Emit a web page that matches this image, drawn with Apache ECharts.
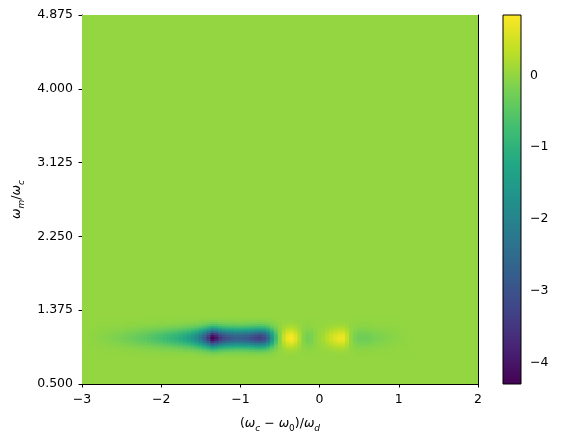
<!DOCTYPE html>
<html>
<head>
<meta charset="utf-8">
<script src="https://cdn.jsdelivr.net/npm/echarts@6/dist/echarts.min.js"></script>
<style>
  html, body { margin: 0; padding: 0; background: #fff; }
  #chart { width: 561px; height: 441px; }
</style>
</head>
<body>
<div id="chart"></div>
<script>
// x positions (in (wc-w0)/wd) where the centre row of the map was read
const xKnots = [
  -2.9, -2.85, -2.8, -2.75, -2.7, -2.65, -2.6, -2.55, -2.5, -2.45, -2.4, -2.35,
  -2.3, -2.25, -2.2, -2.15, -2.1, -2.05, -2.0, -1.95, -1.9, -1.85, -1.8, -1.75,
  -1.7, -1.65, -1.6, -1.55, -1.5, -1.45, -1.4, -1.35, -1.3, -1.25, -1.2,
  -1.15, -1.1, -1.05, -1.0, -0.95, -0.9, -0.85, -0.8, -0.75, -0.7, -0.65,
  -0.6, -0.55, -0.5, -0.45, -0.4, -0.35, -0.3, -0.25, -0.2, -0.15, -0.1,
  -0.05, 0.0, 0.05, 0.1, 0.15, 0.2, 0.25, 0.3, 0.35, 0.4, 0.45, 0.5, 0.55,
  0.6, 0.65, 0.7, 0.75, 0.8, 0.85, 0.9, 0.95, 1.0, 1.05, 1.1
];
// value along the centre row (wm/wc ~ 1.05)
const centerProfile = [
  -0.02, -0.04, -0.06, -0.08, -0.1, -0.12, -0.15, -0.18, -0.21, -0.25, -0.29, -0.33,
  -0.37, -0.42, -0.47, -0.52, -0.58, -0.64, -0.71, -0.78, -0.86, -0.94, -1.02, -1.12,
  -1.25, -1.4, -1.6, -1.9, -2.3, -2.8, -3.5, -4.3, -4.0, -3.5, -3.2,
  -3.0, -2.9, -2.8, -2.8, -2.85, -2.95, -3.1, -3.3, -3.4, -3.2, -2.6,
  -1.7, -0.8, -0.1, 0.4, 0.75, 0.84, 0.6, 0.25, -0.1, -0.25, -0.2,
  -0.05, 0.05, 0.15, 0.3, 0.45, 0.6, 0.7, 0.72, 0.4, 0.0, -0.2, -0.3, -0.3,
  -0.3, -0.25, -0.2, -0.18, -0.15, -0.12, -0.1, -0.07, -0.05, -0.03, -0.02
];
// rows around the centre line and how strong each one is
const yCenter = 1.05;
const rowStep = 0.025;
const rowOffsets = [-0.225, -0.2, -0.175, -0.15, -0.125, -0.1, -0.075, -0.05, -0.025, 0,
  0.025, 0.05, 0.075, 0.1, 0.125, 0.15, 0.175, 0.2, 0.225];
const rowWeights = [0.015, 0.035, 0.08, 0.15, 0.27, 0.43, 0.62, 0.81, 0.95, 1,
  0.95, 0.81, 0.62, 0.43, 0.27, 0.15, 0.08, 0.035, 0.015];
const bgValue = 0;

const xTicks = [-3, -2, -1, 0, 1, 2];
const yTicks = [0.5, 1.375, 2.25, 3.125, 4.0, 4.875];
const cbTicks = [-4, -3, -2, -1, 0];
const vMin = -4.3, vMax = 0.84;

const viridis = ['#440154', '#482475', '#414487', '#355f8d', '#2a788e', '#21918c',
  '#22a884', '#44bf70', '#7ad151', '#bddf26', '#fde725'];

// cells: [x0, x1, y0, y1, value]
const cells = [[-3, 2, 0.5, 4.875, bgValue]];
rowOffsets.forEach(function (off, j) {
  const y0 = yCenter + off - rowStep / 2, y1 = yCenter + off + rowStep / 2;
  xKnots.forEach(function (x, i) {
    const left = i === 0 ? x - (xKnots[1] - xKnots[0]) / 2 : (xKnots[i - 1] + x) / 2;
    const right = i === xKnots.length - 1 ? x + (x - xKnots[i - 1]) / 2 : (x + xKnots[i + 1]) / 2;
    cells.push([left, right, y0, y1, centerProfile[i] * rowWeights[j]]);
  });
});

const font = 'DejaVu Sans';
const fs = 12.5;
const minus = function (v) { return String(v).replace('-', '\u2212'); };
const black = '#000';

const chart = echarts.init(document.getElementById('chart'));
const option = {
  animation: false,
  backgroundColor: '#fff',
  textStyle: { fontFamily: font },
  grid: [
    { left: 82, top: 15, width: 396, height: 369 },
    { left: 503, top: 15, width: 18, height: 369 }
  ],
  xAxis: [
    {
      gridIndex: 0, type: 'value', min: -3, max: 2,
      axisLine: { show: true, onZero: false, lineStyle: { color: black, width: 1 } },
      axisTick: { show: true, length: 3.5, customValues: xTicks, lineStyle: { color: black } },
      axisLabel: { customValues: xTicks, color: black, fontSize: fs, margin: 9, formatter: minus },
      splitLine: { show: false },
      name: '({i|ω}{sub|c} − {i|ω}{sub0|0})/{i|ω}{sub|d}',
      nameLocation: 'middle', nameGap: 31,
      nameTextStyle: {
        color: black, fontSize: fs, lineHeight: 18,
        rich: {
          i: { fontStyle: 'italic', fontSize: fs, color: black },
          sub: { fontStyle: 'italic', fontSize: 9, color: black, verticalAlign: 'bottom', lineHeight: 18 },
          sub0: { fontSize: 9, color: black, verticalAlign: 'bottom', lineHeight: 18 }
        }
      }
    },
    {
      gridIndex: 0, type: 'value', min: -3, max: 2, position: 'top',
      axisLine: { show: true, onZero: false, lineStyle: { color: black, width: 1 } },
      axisTick: { show: false }, axisLabel: { show: false }, splitLine: { show: false }
    },
    {
      gridIndex: 1, type: 'value', min: 0, max: 1, show: false
    }
  ],
  yAxis: [
    {
      gridIndex: 0, type: 'value', min: 0.5, max: 4.875,
      axisLine: { show: true, onZero: false, lineStyle: { color: black, width: 1 } },
      axisTick: { show: true, length: 3.5, customValues: yTicks, lineStyle: { color: black } },
      axisLabel: {
        customValues: yTicks, color: black, fontSize: fs, margin: 9,
        formatter: function (v) { return v.toFixed(3); }
      },
      splitLine: { show: false },
      name: '{i|ω}{sub|m}/{i|ω}{sub|c}',
      nameLocation: 'middle', nameGap: 56, nameRotate: 90,
      nameTextStyle: {
        color: black, fontSize: fs, lineHeight: 18,
        rich: {
          i: { fontStyle: 'italic', fontSize: fs, color: black },
          sub: { fontStyle: 'italic', fontSize: 9, color: black, verticalAlign: 'bottom', lineHeight: 18 }
        }
      }
    },
    {
      gridIndex: 0, type: 'value', min: 0.5, max: 4.875, position: 'right',
      axisLine: { show: true, onZero: false, lineStyle: { color: black, width: 1 } },
      axisTick: { show: false }, axisLabel: { show: false }, splitLine: { show: false }
    },
    {
      gridIndex: 1, type: 'value', min: vMin, max: vMax, position: 'right',
      axisLine: { show: false },
      axisTick: { show: true, length: 3.5, customValues: cbTicks, lineStyle: { color: black } },
      axisLabel: { customValues: cbTicks, color: black, fontSize: fs, margin: 9, formatter: minus },
      splitLine: { show: false }
    }
  ],
  visualMap: {
    show: false, type: 'continuous', seriesIndex: 0, dimension: 4,
    min: vMin, max: vMax, inRange: { color: viridis }
  },
  series: [
    {
      type: 'custom',
      xAxisIndex: 0, yAxisIndex: 0,
      clip: true,
      encode: { x: [0, 1], y: [2, 3] },
      dimensions: ['x0', 'x1', 'y0', 'y1', 'v'],
      data: cells,
      renderItem: function (params, api) {
        const p0 = api.coord([api.value(0), api.value(3)]);
        const p1 = api.coord([api.value(1), api.value(2)]);
        return {
          type: 'rect',
          shape: { x: p0[0] - 0.3, y: p0[1] - 0.3, width: p1[0] - p0[0] + 0.6, height: p1[1] - p0[1] + 0.6 },
          style: { fill: api.visual('color') }
        };
      }
    },
    {
      type: 'custom',
      xAxisIndex: 2, yAxisIndex: 2,
      data: [[0, 1, vMin, vMax]],
      renderItem: function (params, api) {
        const p0 = api.coord([api.value(0), api.value(3)]);
        const p1 = api.coord([api.value(1), api.value(2)]);
        const stops = viridis.map(function (c, k) { return { offset: k / (viridis.length - 1), color: c }; });
        return {
          type: 'rect',
          shape: { x: p0[0], y: p0[1], width: p1[0] - p0[0], height: p1[1] - p0[1] },
          style: {
            fill: new echarts.graphic.LinearGradient(0, 1, 0, 0, stops),
            stroke: black, lineWidth: 1
          }
        };
      }
    }
  ]
};
chart.setOption(option);
</script>
</body>
</html>
